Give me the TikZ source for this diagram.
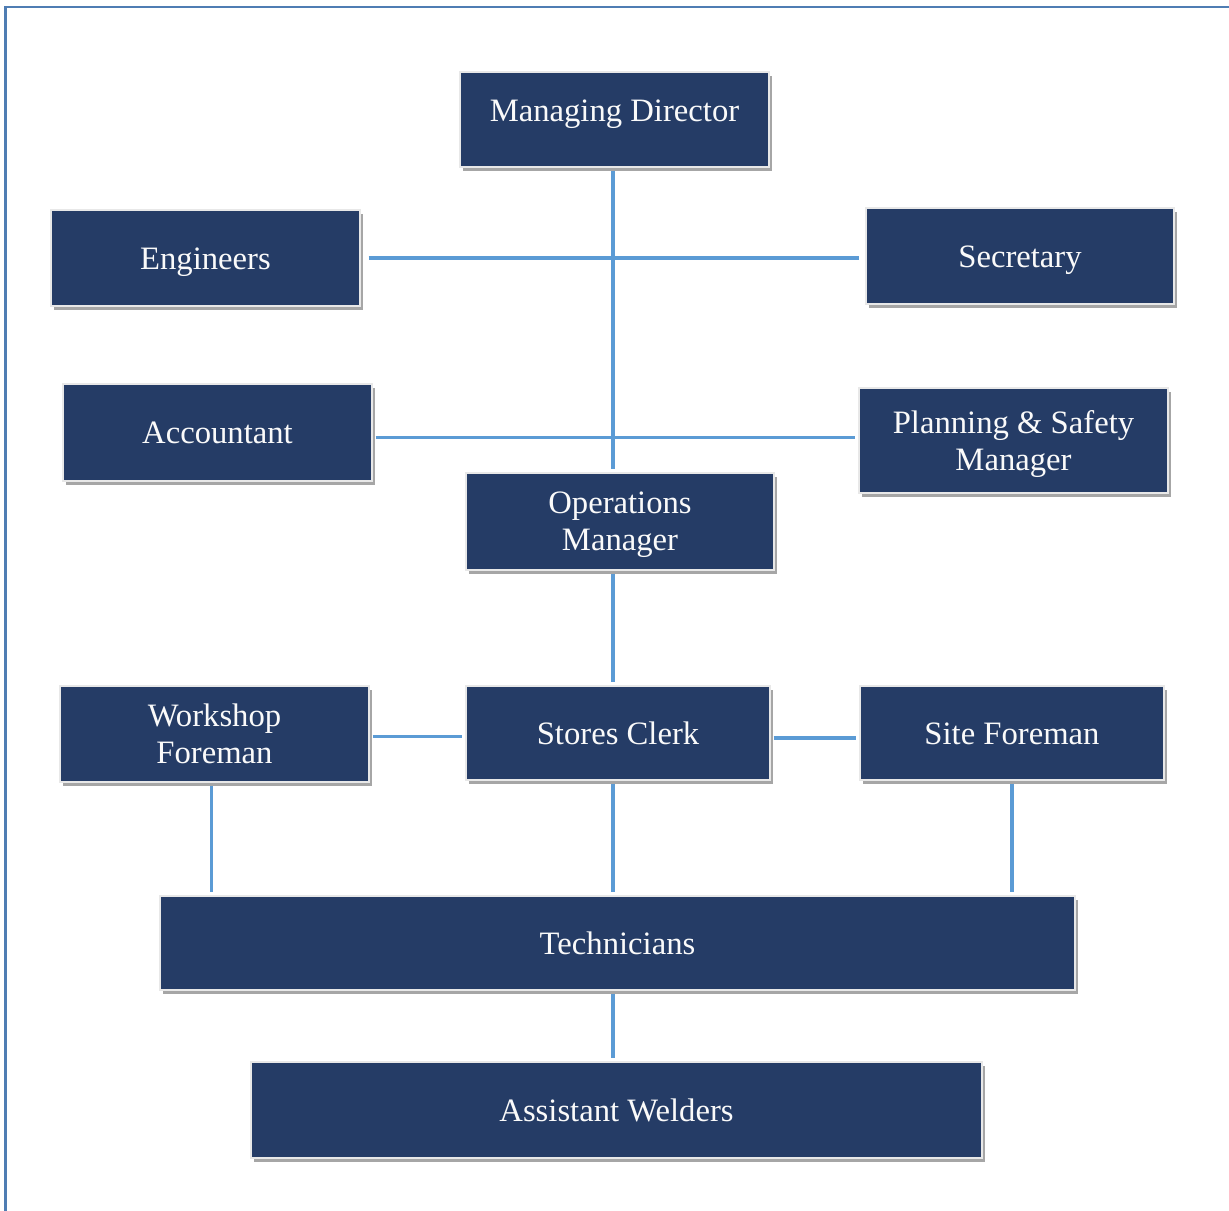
\documentclass[tikz,border=0pt]{standalone}
\usepackage{fontspec}
\setmainfont{Liberation Serif}
\usetikzlibrary{shadows}
\definecolor{boxblue}{HTML}{253C66}
\definecolor{linkblue}{HTML}{5B9BD5}
\definecolor{frameblue}{HTML}{4F7DB3}
\begin{document}
\begin{tikzpicture}[x=0.75pt,y=-0.75pt,
	post/.style={draw=white!82!gray, line width=0.9pt, fill=boxblue, text=white!96!gray,
		align=center, font=\fontsize{24.5}{27.75}\selectfont, inner sep=0pt,
		minimum width=231.75pt, minimum height=72pt, text depth=0pt,
		drop shadow={shadow xshift=2.5pt, shadow yshift=-3pt, opacity=0.35, fill=black}},
	oneline/.style={post, text height=16.6pt},
	link/.style={draw=linkblue, line width=2.3pt, shorten <=2.2pt, shorten >=2.2pt}]

	\useasboundingbox (0,0) rectangle (1229,1211);
	\draw[frameblue, line width=1.6pt] (5.5,1211) -- (5.5,7) -- (1229,7);

	\coordinate (spine) at (613,0);

	\node[oneline, minimum height=71.25pt, text depth=13.4pt] (md) at (614.5,119.5) {Managing Director};
	\node[oneline] (eng) at (205.5,258) {Engineers};
	\node[oneline, minimum width=231pt] (sec) at (1020,256) {Secretary};
	\node[oneline, minimum height=72.75pt] (acc) at (217.5,432.5) {Accountant};
	\node[post, minimum height=78.75pt] (psm) at (1013.5,440.5) {Planning \& Safety\\Manager};
	\node[post, minimum width=231pt, minimum height=72.75pt] (ops) at (620,521.5) {Operations\\Manager};

	\node[post] (wsf) at (214.5,734) {Workshop\\Foreman};
	\node[oneline, minimum width=228pt, minimum height=70.5pt] (stc) at (618,733) {Stores Clerk};
	\node[oneline, minimum width=228pt, minimum height=70.5pt] (sif) at (1012,733) {Site Foreman};

	\node[oneline, minimum width=686.25pt, minimum height=70.5pt] (tec) at (617.5,943) {Technicians};
	\node[oneline, minimum width=548.25pt] (asw) at (616.5,1110) {Assistant Welders};

	\draw[link] (md.south -| spine) -- (ops.north -| spine);
	\draw[link, shorten <=6pt, shorten >=4.5pt] (eng.east) -- (eng.east -| sec.west);
	\draw[link] ([yshift=-3.4pt]acc.east) -- ([yshift=-3.4pt]acc.east -| psm.west);
	\draw[link] (ops.south -| spine) -- (stc.north -| spine);

	\draw[link] ([yshift=-2.2pt]wsf.east) -- ([yshift=-2.2pt]wsf.east -| stc.west);
	\draw[link] ([yshift=-3.75pt]stc.east) -- ([yshift=-3.75pt]stc.east -| sif.west);

	\draw[link] ([xshift=-2.6pt]wsf.south) -- ([xshift=-2.6pt]wsf.south |- tec.north);
	\draw[link] (stc.south -| spine) -- (tec.north -| spine);
	\draw[link] (sif.south) -- (sif.south |- tec.north);
	\draw[link] (tec.south -| spine) -- (asw.north -| spine);
\end{tikzpicture}
\end{document}
